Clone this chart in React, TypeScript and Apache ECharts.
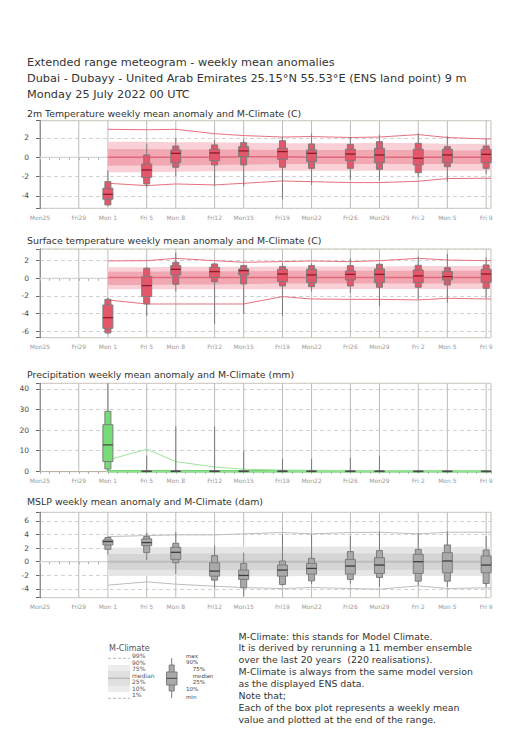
import React, { useEffect, useRef } from "react";
import * as echarts from "echarts";

const FONT = "DejaVu Sans";

const TITLE_LINES = [
  "Extended range meteogram - weekly mean anomalies",
  "Dubai - Dubayy - United Arab Emirates 25.15°N 55.53°E (ENS land point) 9 m",
  "Monday 25 July 2022 00 UTC",
];
const PANEL_TITLES = [
  "2m Temperature weekly mean anomaly and M-Climate (C)",
  "Surface temperature weekly mean anomaly and M-Climate (C)",
  "Precipitation weekly mean anomaly and M-Climate (mm)",
  "MSLP weekly mean anomaly and M-Climate (dam)",
];
const NOTE_LINES = [
  "M-Climate: this stands for Model Climate.",
  "It is derived by rerunning a 11 member ensemble",
  "over the last 20 years  (220 realisations).",
  "M-Climate is always from the same model version",
  "as the displayed ENS data.",
  "Note that;",
  "Each of the box plot represents a weekly mean",
  "value and plotted at the end of the range.",
];
const CLIM_LEGEND = ["99%", "90%", "75%", "median", "25%", "10%", "1%"];
const BOX_LEGEND = ["max", "90%", "75%", "median", "25%", "10%", "min"];

// days since Mon 25 July 2022
const LABEL_DAYS = [0, 4, 7, 11, 14, 18, 21, 25, 28, 32, 35, 39, 42, 46];
const LABEL_TEXT = ["Mon25", "Fri29", "Mon 1", "Fri 5", "Mon 8", "Fri12", "Mon15", "Fri19", "Mon22", "Fri26", "Mon29", "Fri 2", "Mon 5", "Fri 9"];
const BOX_DAYS = [7, 11, 14, 18, 21, 25, 28, 32, 35, 39, 42, 46];

// 2m temperature ensemble boxes
const T2_MAX = [-1.38, 1.45, 1.97, 1.79, 1.86, 2.14, 2.48, 2.07, 2.31, 2.48, 2.2, 1.97];
const T2_P90 = [-2.52, 0.24, 1.17, 1.28, 1.52, 1.72, 1.38, 1.34, 1.62, 1.45, 1.1, 1.17];
const T2_P75 = [-3.2, -0.69, 0.76, 0.83, 1.1, 0.93, 0.76, 0.83, 0.93, 0.83, 0.83, 0.83];
const T2_MED = [-3.83, -1.31, 0.41, 0.45, 0.66, 0.59, 0.41, 0.34, 0.24, -0.1, 0.24, 0.31];
const T2_P25 = [-4.34, -2.07, -0.55, -0.34, 0.07, -0.21, -0.45, -0.34, -0.55, -0.79, -0.55, -0.55];
const T2_P10 = [-4.93, -2.76, -1.03, -0.79, -0.79, -1.03, -1.14, -1.14, -1.24, -1.59, -0.97, -1.14];
const T2_MIN = [-5.03, -3.1, -1.93, -2.97, -3.0, -4.34, -2.86, -2.34, -2.41, -2.07, -2.52, -1.72];
// 2m temperature M-Climate
const T2C_99 = [2.9, 2.85, 2.9, 2.45, 2.25, 2.1, 2.15, 2.05, 2.1, 2.35, 2.05, 1.9];
const T2C_90 = [1.6, 1.6, 1.55, 1.55, 1.5, 1.45, 1.45, 1.45, 1.5, 1.45, 1.4, 1.4];
const T2C_75 = [0.85, 0.85, 0.8, 0.8, 0.8, 0.75, 0.75, 0.75, 0.75, 0.75, 0.7, 0.7];
const T2C_50 = [0.0, 0.0, 0.0, 0.0, 0.05, 0.05, 0.0, 0.0, 0.0, 0.0, 0.0, 0.0];
const T2C_25 = [-0.88, -0.85, -0.85, -0.8, -0.75, -0.7, -0.7, -0.7, -0.7, -0.7, -0.7, -0.7];
const T2C_10 = [-1.55, -1.55, -1.5, -1.45, -1.45, -1.4, -1.4, -1.4, -1.4, -1.4, -1.4, -1.4];
const T2C_1 = [-2.69, -2.93, -2.76, -2.86, -2.69, -2.45, -2.52, -2.62, -2.62, -2.48, -2.2, -2.17];

// surface temperature ensemble boxes
const ST_MAX = [-2.2, 1.33, 2.92, 1.7, 1.52, 1.7, 1.7, 2.27, 1.7, 2.46, 2.77, 2.39];
const ST_P90 = [-2.39, 1.14, 1.82, 1.63, 1.44, 1.33, 1.44, 1.44, 1.59, 1.48, 1.21, 1.52];
const ST_P75 = [-3.03, 0.19, 1.44, 1.25, 1.06, 1.02, 1.02, 0.83, 1.06, 0.95, 0.76, 1.02];
const ST_MED = [-4.47, -0.83, 1.02, 0.76, 0.87, 0.49, 0.38, 0.45, 0.45, 0.27, 0.19, 0.49];
const ST_P25 = [-5.68, -2.08, 0.38, 0.08, 0.38, -0.38, -0.49, -0.19, -0.49, -0.49, -0.19, -0.45];
const ST_P10 = [-6.2, -2.92, -0.68, -0.38, -0.64, -0.87, -0.95, -0.87, -1.02, -1.02, -0.76, -1.14];
const ST_MIN = [-6.4, -4.28, -1.52, -5.19, -4.05, -4.28, -1.52, -1.63, -3.14, -2.39, -2.77, -2.27];
// surface temperature M-Climate
const STC_99 = [1.97, 2.0, 2.27, 2.0, 1.82, 1.89, 1.97, 1.89, 2.0, 2.27, 2.08, 2.0];
const STC_90 = [1.25, 1.25, 1.3, 1.3, 1.3, 1.35, 1.35, 1.35, 1.35, 1.4, 1.4, 1.4];
const STC_75 = [0.75, 0.75, 0.8, 0.8, 0.8, 0.85, 0.85, 0.85, 0.85, 0.85, 0.85, 0.85];
const STC_50 = [0.08, 0.08, 0.1, 0.1, 0.1, 0.1, 0.1, 0.1, 0.1, 0.1, 0.1, 0.1];
const STC_25 = [-0.75, -0.75, -0.7, -0.7, -0.65, -0.6, -0.6, -0.6, -0.6, -0.6, -0.6, -0.6];
const STC_10 = [-1.25, -1.25, -1.25, -1.25, -1.25, -1.25, -1.25, -1.22, -1.22, -1.22, -1.22, -1.22];
const STC_1 = [-2.46, -2.92, -2.92, -2.92, -2.92, -2.08, -2.35, -2.39, -2.39, -2.46, -2.27, -2.35];

// precipitation ensemble boxes
const TP_MAX = [45, 7.6, 21.8, 21.8, 9.9, 6.0, 6.0, 6.7, 7.6, 0.7, 0.3, 0.3];
const TP_P90 = [29.1, 0.3, 0.3, 0.3, 0.2, 0.2, 0.2, 0.2, 0.2, 0.1, 0.1, 0.1];
const TP_P75 = [22.6, 0.1, 0.1, 0.1, 0.1, 0.1, 0.1, 0.1, 0.1, 0.05, 0.05, 0.05];
const TP_MED = [12.8, 0, 0, 0, 0, 0, 0, 0, 0, 0, 0, 0];
const TP_P25 = [4.7, 0, 0, 0, 0, 0, 0, 0, 0, 0, 0, 0];
const TP_P10 = [1.1, 0, 0, 0, 0, 0, 0, 0, 0, 0, 0, 0];
const TP_MIN = [0.2, 0, 0, 0, 0, 0, 0, 0, 0, 0, 0, 0];
// precipitation M-Climate
const TPC_99 = [5.5, 10.7, 4.7, 2.1, 1.0, 0.6, 0.5, 0.4, 0.4, 0.3, 0.3, 0.3];
const TPC_90 = [0.5, 0.5, 0.5, 0.5, 0.5, 0.5, 0.5, 0.5, 0.5, 0.5, 0.5, 0.5];
const TPC_75 = [0.25, 0.25, 0.25, 0.25, 0.25, 0.25, 0.25, 0.25, 0.25, 0.25, 0.25, 0.25];
const TPC_50 = [0, 0, 0, 0, 0, 0, 0, 0, 0, 0, 0, 0];
const TPC_25 = [0, 0, 0, 0, 0, 0, 0, 0, 0, 0, 0, 0];
const TPC_10 = [0, 0, 0, 0, 0, 0, 0, 0, 0, 0, 0, 0];
const TPC_1 = [0, 0, 0, 0, 0, 0, 0, 0, 0, 0, 0, 0];

// MSLP ensemble boxes
const MS_MAX = [3.69, 4.29, 4.33, 2.36, 1.33, 4.04, 4.04, 3.79, 4.43, 4.19, 4.43, 3.79];
const MS_P90 = [3.55, 3.69, 2.71, 0.89, -0.25, 0.1, 0.49, 1.48, 1.63, 1.82, 2.46, 1.72];
const MS_P75 = [3.2, 3.35, 2.12, -0.15, -1.23, -0.49, -0.25, 0.34, 0.59, 1.08, 1.33, 0.84];
const MS_MED = [2.96, 2.81, 1.38, -1.38, -2.02, -1.23, -0.99, -0.64, -0.49, 0.0, 0.1, -0.49];
const MS_P25 = [2.46, 2.36, 0.34, -2.12, -2.61, -2.12, -1.82, -1.82, -1.72, -1.72, -1.63, -1.63];
const MS_P10 = [1.82, 1.33, -0.15, -2.71, -3.84, -3.35, -2.81, -2.61, -2.32, -2.86, -2.86, -3.2];
const MS_MIN = [1.08, 0.25, -1.87, -3.84, -5.07, -3.55, -3.3, -3.2, -3.69, -3.45, -3.69, -3.69];
// MSLP M-Climate
const MSC_99 = [3.69, 3.84, 3.94, 3.94, 4.09, 4.29, 4.09, 4.29, 4.33, 4.09, 4.33, 4.33];
const MSC_90 = [2.05, 2.1, 2.15, 2.15, 2.2, 2.2, 2.2, 2.25, 2.2, 2.2, 2.2, 2.2];
const MSC_75 = [1.15, 1.15, 1.2, 1.2, 1.2, 1.25, 1.25, 1.25, 1.2, 1.2, 1.2, 1.2];
const MSC_50 = [0, 0, 0, 0, 0, 0, 0, 0, 0, 0, 0, 0];
const MSC_25 = [-1.2, -1.2, -1.2, -1.25, -1.25, -1.25, -1.25, -1.25, -1.2, -1.2, -1.2, -1.2];
const MSC_10 = [-2.1, -2.1, -2.1, -2.15, -2.15, -2.15, -2.1, -2.1, -2.1, -2.1, -2.1, -2.1];
const MSC_1 = [-3.45, -2.96, -3.3, -3.6, -3.8, -3.95, -3.79, -3.94, -4.04, -3.55, -3.94, -3.84];

type Colors = {
  box: string; median: string; light: string; dark: string; cmed: string; cmedW: number; lines: string;
};
type Panel = {
  title: string; top: number; height: number; min: number; max: number; step: number; zero: boolean;
  box: number[][]; clim: number[][]; colors: Colors;
};

const RED: Colors = { box: "#e4576a", median: "#8e1a2c", light: "#f9d0d6", dark: "#f2a8b3", cmed: "#e2687a", cmedW: 1.5, lines: "#e8707f" };
const GREEN: Colors = { box: "#76dc76", median: "#4a4a4a", light: "#b8ecb8", dark: "#8fe08f", cmed: "#62cc62", cmedW: 2.5, lines: "#9de69d" };
const GREY: Colors = { box: "#aaaaaa", median: "#3d3d3d", light: "#e6e6e6", dark: "#d5d5d5", cmed: "#bdbdbd", cmedW: 2, lines: "#bcbcbc" };

const PANELS: Panel[] = [
  { title: PANEL_TITLES[0], top: 120.7, height: 87.6, min: -5.28, max: 3.79, step: 2, zero: true,
    box: [T2_MIN, T2_P10, T2_P25, T2_MED, T2_P75, T2_P90, T2_MAX],
    clim: [T2C_1, T2C_10, T2C_25, T2C_50, T2C_75, T2C_90, T2C_99], colors: RED },
  { title: PANEL_TITLES[1], top: 249, height: 88.7, min: -6.75, max: 3.33, step: 2, zero: true,
    box: [ST_MIN, ST_P10, ST_P25, ST_MED, ST_P75, ST_P90, ST_MAX],
    clim: [STC_1, STC_10, STC_25, STC_50, STC_75, STC_90, STC_99], colors: RED },
  { title: PANEL_TITLES[2], top: 383.3, height: 88.4, min: -0.2, max: 42.7, step: 10, zero: false,
    box: [TP_MIN, TP_P10, TP_P25, TP_MED, TP_P75, TP_P90, TP_MAX],
    clim: [TPC_1, TPC_10, TPC_25, TPC_50, TPC_75, TPC_90, TPC_99], colors: GREEN },
  { title: PANEL_TITLES[3], top: 512.3, height: 85.4, min: -5.29, max: 7.26, step: 2, zero: true,
    box: [MS_MIN, MS_P10, MS_P25, MS_MED, MS_P75, MS_P90, MS_MAX],
    clim: [MSC_1, MSC_10, MSC_25, MSC_50, MSC_75, MSC_90, MSC_99], colors: GREY },
];

const TITLE_Y = [113, 240, 374, 501.7];

function buildOption() {
  const grid: any[] = [];
  const xAxis: any[] = [];
  const yAxis: any[] = [];
  const series: any[] = [];

  PANELS.forEach((p, gi) => {
    grid.push({ left: 40, width: 451, top: p.top, height: p.height, show: true, borderColor: "#c9c0ae", borderWidth: 1, backgroundColor: "transparent" });
    xAxis.push({
      type: "value", gridIndex: gi, min: 0, max: 46.5, interval: 1,
      axisLine: { show: true, lineStyle: { color: "#bdb4a2", width: 1 } },
      axisTick: { show: true, length: 2.5, lineStyle: { color: "#aaa" } },
      axisLabel: {
        fontSize: 6, color: "#9a9a9a", margin: 6, fontFamily: FONT,
        formatter: (v: number) => { const k = LABEL_DAYS.indexOf(Math.round(v * 1000) / 1000); return k >= 0 ? LABEL_TEXT[k] : ""; },
      },
      splitLine: { show: false },
    });
    yAxis.push({
      type: "value", gridIndex: gi, min: p.min, max: p.max, minInterval: p.step, maxInterval: p.step, splitNumber: 5,
      axisLine: { show: true, lineStyle: { color: "#666", width: 1 } },
      axisTick: { show: true, length: 4, lineStyle: { color: "#666" } },
      axisLabel: {
        fontSize: 7.5, color: "#4a4a4a", margin: 11, fontFamily: FONT,
        formatter: (v: number) => { const r = v / p.step; return Math.abs(r - Math.round(r)) < 1e-6 ? String(Math.round(v)) : ""; },
      },
      splitLine: { show: true, lineStyle: { color: "#d2d2d2", width: 1, type: [4, 3] } },
    });

    // vertical date grid lines and zero line
    series.push({
      type: "custom", coordinateSystem: "cartesian2d", xAxisIndex: gi, yAxisIndex: gi, z: 1, silent: true,
      data: LABEL_DAYS.map((d) => [d, 0]),
      encode: { x: 0, y: 1 },
      renderItem: (params: any, api: any) => {
        const cs = params.coordSys;
        const x = api.coord([LABEL_DAYS[params.dataIndex], 0])[0];
        const children: any[] = [
          { type: "line", shape: { x1: x, y1: cs.y, x2: x, y2: cs.y + cs.height }, style: { stroke: "#bcbcbc", lineWidth: 1 } },
        ];
        if (params.dataIndex === 0 && p.zero) {
          const y0 = api.coord([0, 0])[1];
          children.push({ type: "line", shape: { x1: cs.x, y1: y0, x2: cs.x + cs.width, y2: y0 }, style: { stroke: "#d4d4d4", lineWidth: 1.2 } });
        }
        return { type: "group", children };
      },
    });

    // M-Climate bands
    series.push({
      type: "custom", coordinateSystem: "cartesian2d", xAxisIndex: gi, yAxisIndex: gi, z: 2, silent: true,
      data: BOX_DAYS.map((d, i) => [d, p.clim[3][i]]),
      encode: { x: 0, y: 1 },
      renderItem: (params: any, api: any) => {
        if (params.dataIndex !== 0) return { type: "group", children: [] };
        const cs = params.coordSys;
        const right = cs.x + cs.width;
        const pts = (arr: number[]) => {
          const out = BOX_DAYS.map((d, i) => api.coord([d, arr[i]]));
          out.push([right, out[out.length - 1][1]]);
          return out;
        };
        const band = (lo: number[], hi: number[]) => pts(hi).concat(pts(lo).reverse());
        const c = p.colors;
        return {
          type: "group",
          children: [
            { type: "polygon", shape: { points: band(p.clim[1], p.clim[5]) }, style: { fill: c.light } },
            { type: "polygon", shape: { points: band(p.clim[2], p.clim[4]) }, style: { fill: c.dark } },
            { type: "polyline", shape: { points: pts(p.clim[3]) }, style: { stroke: c.cmed, lineWidth: c.cmedW, fill: "none" } },
            { type: "polyline", shape: { points: pts(p.clim[0]) }, style: { stroke: c.lines, lineWidth: 1, fill: "none" } },
            { type: "polyline", shape: { points: pts(p.clim[6]) }, style: { stroke: c.lines, lineWidth: 1, fill: "none" } },
          ],
        };
      },
    });

    // ensemble boxes
    series.push({
      type: "custom", coordinateSystem: "cartesian2d", xAxisIndex: gi, yAxisIndex: gi, z: 3, silent: true,
      data: BOX_DAYS.map((d, i) => [d, p.box[3][i]]),
      encode: { x: 0, y: 1 },
      renderItem: (params: any, api: any) => {
        const i = params.dataIndex;
        const cs = params.coordSys;
        const top = cs.y, bot = cs.y + cs.height;
        const d = BOX_DAYS[i];
        const X = api.coord([d, 0])[0];
        const Y = (v: number) => Math.max(top, Math.min(bot, api.coord([d, v])[1]));
        const [mn, p10, p25, med, p75, p90, mx] = p.box.map((a) => Y(a[i]));
        const c = p.colors;
        const nW = 6, wW = 10;
        const edge = { stroke: "#7c7c7c", lineWidth: 1 };
        return {
          type: "group",
          children: [
            { type: "line", shape: { x1: X, y1: mx, x2: X, y2: mn }, style: { stroke: "#7c7c7c", lineWidth: 1 } },
            { type: "rect", shape: { x: X - nW / 2, y: p90, width: nW, height: Math.max(0.6, p10 - p90) }, style: { fill: c.box, ...edge } },
            { type: "rect", shape: { x: X - wW / 2, y: p75, width: wW, height: Math.max(0.6, p25 - p75) }, style: { fill: c.box, ...edge } },
            { type: "line", shape: { x1: X - wW / 2, y1: med, x2: X + wW / 2, y2: med }, style: { stroke: c.median, lineWidth: 1.3 } },
          ],
        };
      },
    });
  });

  const graphic: any[] = [];
  const txt = (text: string, x: number, y: number, size: number, fill: string) => ({
    type: "text", x, y, silent: true,
    style: { text, fontSize: size, fontFamily: FONT, fill, align: "left", verticalAlign: "middle" },
  });
  TITLE_LINES.forEach((t, i) => graphic.push(txt(t, 27, 62.3 + i * 16, 11.3, "#333")));
  PANEL_TITLES.forEach((t, i) => graphic.push(txt(t, 27, TITLE_Y[i], 9.4, "#333")));
  NOTE_LINES.forEach((t, i) => graphic.push(txt(t, 238.5, 636 + i * 11.9, 9.4, "#333")));

  // M-Climate legend
  graphic.push(txt("M-Climate", 109, 648, 8, "#555"));
  graphic.push({ type: "line", silent: true, shape: { x1: 108, y1: 658.3, x2: 130, y2: 658.3 }, style: { stroke: "#bbb", lineWidth: 1, lineDash: [3, 2] } });
  graphic.push({ type: "line", silent: true, shape: { x1: 108, y1: 698.3, x2: 130, y2: 698.3 }, style: { stroke: "#bbb", lineWidth: 1, lineDash: [3, 2] } });
  graphic.push({ type: "rect", silent: true, shape: { x: 108, y: 665, width: 22, height: 27 }, style: { fill: "#ececec" } });
  graphic.push({ type: "rect", silent: true, shape: { x: 108, y: 671, width: 22, height: 15 }, style: { fill: "#e0e0e0" } });
  graphic.push({ type: "line", silent: true, shape: { x1: 108, y1: 678.3, x2: 130, y2: 678.3 }, style: { stroke: "#bbbbbb", lineWidth: 1.5 } });
  const climY = [655.5, 662, 668.5, 675, 681.5, 688, 694.5];
  CLIM_LEGEND.forEach((t, i) => graphic.push(txt(t, 132, climY[i], 6, "#555")));

  // box legend
  graphic.push({ type: "line", silent: true, shape: { x1: 171.7, y1: 658, x2: 171.7, y2: 698 }, style: { stroke: "#7c7c7c", lineWidth: 1 } });
  graphic.push({ type: "rect", silent: true, shape: { x: 169.2, y: 665, width: 5, height: 26 }, style: { fill: "#aaaaaa", stroke: "#7c7c7c", lineWidth: 1 } });
  graphic.push({ type: "rect", silent: true, shape: { x: 166.5, y: 672, width: 10.5, height: 13 }, style: { fill: "#aaaaaa", stroke: "#7c7c7c", lineWidth: 1 } });
  graphic.push({ type: "line", silent: true, shape: { x1: 166.5, y1: 678.3, x2: 177, y2: 678.3 }, style: { stroke: "#444", lineWidth: 1 } });
  const boxLx = [186, 186, 192.7, 192.7, 192.7, 186, 186];
  const boxLy = [655.7, 662.3, 669, 675.8, 682.3, 689, 696.7];
  BOX_LEGEND.forEach((t, i) => graphic.push(txt(t, boxLx[i], boxLy[i], 5.5, "#444")));

  return {
    animation: false,
    backgroundColor: "#ffffff",
    textStyle: { fontFamily: FONT },
    grid, xAxis, yAxis, series, graphic,
  };
}

export default function App() {
  const ref = useRef<HTMLDivElement>(null);
  useEffect(() => {
    if (!ref.current) return;
    const chart = echarts.init(ref.current, null, { renderer: "svg", width: 530, height: 746 });
    chart.setOption(buildOption() as any);
    return () => chart.dispose();
  }, []);
  return <div ref={ref} style={{ position: "absolute", left: 0, top: 0, width: 530, height: 746 }} />;
}
